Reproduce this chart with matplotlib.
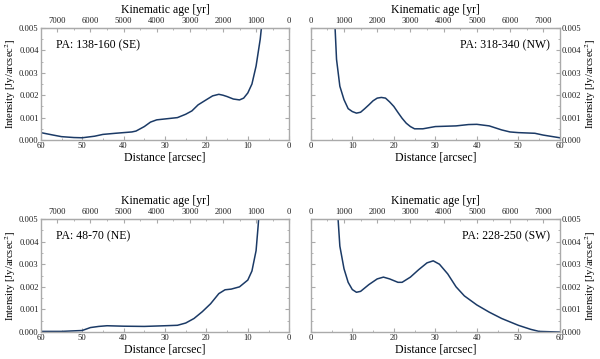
import matplotlib.pyplot as plt
from matplotlib.ticker import FormatStrFormatter, AutoMinorLocator

# Distance [arcsec] and intensity [Jy/arcsec^2]
se_dist = [60, 57, 55, 52, 50, 47, 45, 42, 40, 38, 37, 35, 33.5, 32, 30, 27, 25, 23.5, 22, 20, 18.5, 17,
           16, 15, 13.5, 12, 11, 10, 9, 8, 7, 6.6]
se_int = [0.00033, 0.00022, 0.00015, 0.00011, 0.0001, 0.00017, 0.00025, 0.0003, 0.00033, 0.00036,
          0.0004, 0.0006, 0.0008, 0.0009, 0.00094, 0.001, 0.00115, 0.0013, 0.00157, 0.0018, 0.00197,
          0.00204, 0.002, 0.00194, 0.00183, 0.00179, 0.00187, 0.0021, 0.0025, 0.0033, 0.0045, 0.0052]

nw_dist = [5.8, 6.2, 7, 8, 9, 10, 11, 12, 13, 14, 15, 16, 17, 18, 19, 20, 21, 22, 23, 24, 25, 27, 30, 35,
           38, 40, 43, 46, 48, 50, 54, 56, 58, 60]
nw_int = [0.0052, 0.0036, 0.0024, 0.0018, 0.0014, 0.00127, 0.0012, 0.00124, 0.0014, 0.00157, 0.00175,
          0.00187, 0.0019, 0.00187, 0.0017, 0.0015, 0.00123, 0.00097, 0.00075, 0.0006, 0.0005, 0.0005,
          0.0006, 0.00063, 0.00069, 0.0007, 0.00063, 0.00045, 0.00036, 0.00033, 0.0003, 0.00022,
          0.00016, 0.0001]

ne_dist = [60, 55, 50, 48, 46, 44, 40, 35, 30, 27, 25, 23, 21, 19, 17, 15.5, 14, 12, 10, 9, 8, 7.5, 7.3]
ne_int = [0.00003, 0.00003, 0.00007, 0.0002, 0.00025, 0.00028, 0.00026, 0.00025, 0.00028, 0.0003,
          0.0004, 0.0006, 0.0009, 0.00125, 0.0017, 0.00187, 0.0019, 0.002, 0.0023, 0.0027, 0.0036,
          0.0047, 0.0052]

sw_dist = [6.5, 7, 8, 9, 10, 11, 12, 14, 16, 17.5, 19, 21, 22, 24, 26, 28, 29.5, 31, 33, 35, 37, 40,
           43, 46, 50, 53, 55, 60]
sw_int = [0.0052, 0.0038, 0.0028, 0.0022, 0.00188, 0.00176, 0.0018, 0.0021, 0.00235, 0.00243, 0.00235,
          0.0022, 0.0022, 0.00243, 0.00276, 0.00306, 0.00315, 0.003, 0.00257, 0.002, 0.0016, 0.0012,
          0.00088, 0.0006, 0.0003, 0.00012, 0.00003, 0.0]

labels = ['PA: 138-160 (SE)', 'PA: 318-340 (NW)', 'PA: 48-70 (NE)', 'PA: 228-250 (SW)']

YR_PER_ARCSEC = 125.0
plt.rcParams['font.family'] = ['Liberation Serif', 'DejaVu Serif']
plt.rcParams['mathtext.fontset'] = 'stix'

line_col = '#1b3a66'
frame_col = '#aaaaaa'

fig = plt.figure(figsize=(6.0, 3.59), dpi=100)

positions = [
    [0.068, 0.610, 0.414, 0.312],
    [0.518, 0.610, 0.415, 0.312],
    [0.068, 0.075, 0.414, 0.315],
    [0.518, 0.075, 0.415, 0.315],
]
datasets = [(se_dist, se_int), (nw_dist, nw_int), (ne_dist, ne_int), (sw_dist, sw_int)]

for i, (pos, (d, inten), lab) in enumerate(zip(positions, datasets, labels)):
    ax = fig.add_axes(pos)
    right = i in (1, 3)
    ax.plot(d, inten, color=line_col, linewidth=1.1)
    if right:
        ax.set_xlim(0, 60)
    else:
        ax.set_xlim(60, 0)
    ax.set_ylim(0, 0.005)
    ax.set_xticks(range(0, 61, 10))
    ax.set_yticks([0, 0.001, 0.002, 0.003, 0.004, 0.005])
    ax.yaxis.set_major_formatter(FormatStrFormatter('%.3f'))
    ax.xaxis.set_minor_locator(AutoMinorLocator(2))
    ax.yaxis.set_minor_locator(AutoMinorLocator(2))
    for s in ax.spines.values():
        s.set_color(frame_col)
        s.set_linewidth(1.0)
    ax.tick_params(which='both', direction='in', colors=frame_col, labelcolor='#222222',
                   labelsize=6.2, left=True, right=True, bottom=True, top=False, pad=1.5)
    ax.tick_params(which='major', length=3)
    ax.tick_params(which='minor', length=1.5)
    ax.set_xlabel('Distance [arcsec]', fontsize=8.5, labelpad=1)
    if right:
        ax.yaxis.set_label_position('right')
        ax.tick_params(labelleft=False, labelright=True)
        ax.set_ylabel('Intensity [Jy/arcsec$^2$]', fontsize=7.6, labelpad=1)
        ax.text(0.96, 0.85, lab, transform=ax.transAxes, ha='right', va='center', fontsize=8.5)
    else:
        ax.set_ylabel('Intensity [Jy/arcsec$^2$]', fontsize=7.6, labelpad=1)
        ax.text(0.06, 0.85, lab, transform=ax.transAxes, ha='left', va='center', fontsize=8.5)

    sec = ax.secondary_xaxis('top', functions=(lambda x: x * YR_PER_ARCSEC,
                                               lambda a: a / YR_PER_ARCSEC))
    sec.set_xticks(range(0, 7001, 1000))
    sec.xaxis.set_minor_locator(AutoMinorLocator(2))
    sec.spines['top'].set_color(frame_col)
    sec.tick_params(which='both', direction='in', colors=frame_col, labelcolor='#222222',
                    labelsize=6.2, pad=2)
    sec.tick_params(which='major', length=3)
    sec.tick_params(which='minor', length=1.5)
    sec.set_xlabel('Kinematic age [yr]', fontsize=8.5, labelpad=3)

fig.savefig('out.png', dpi=100)
